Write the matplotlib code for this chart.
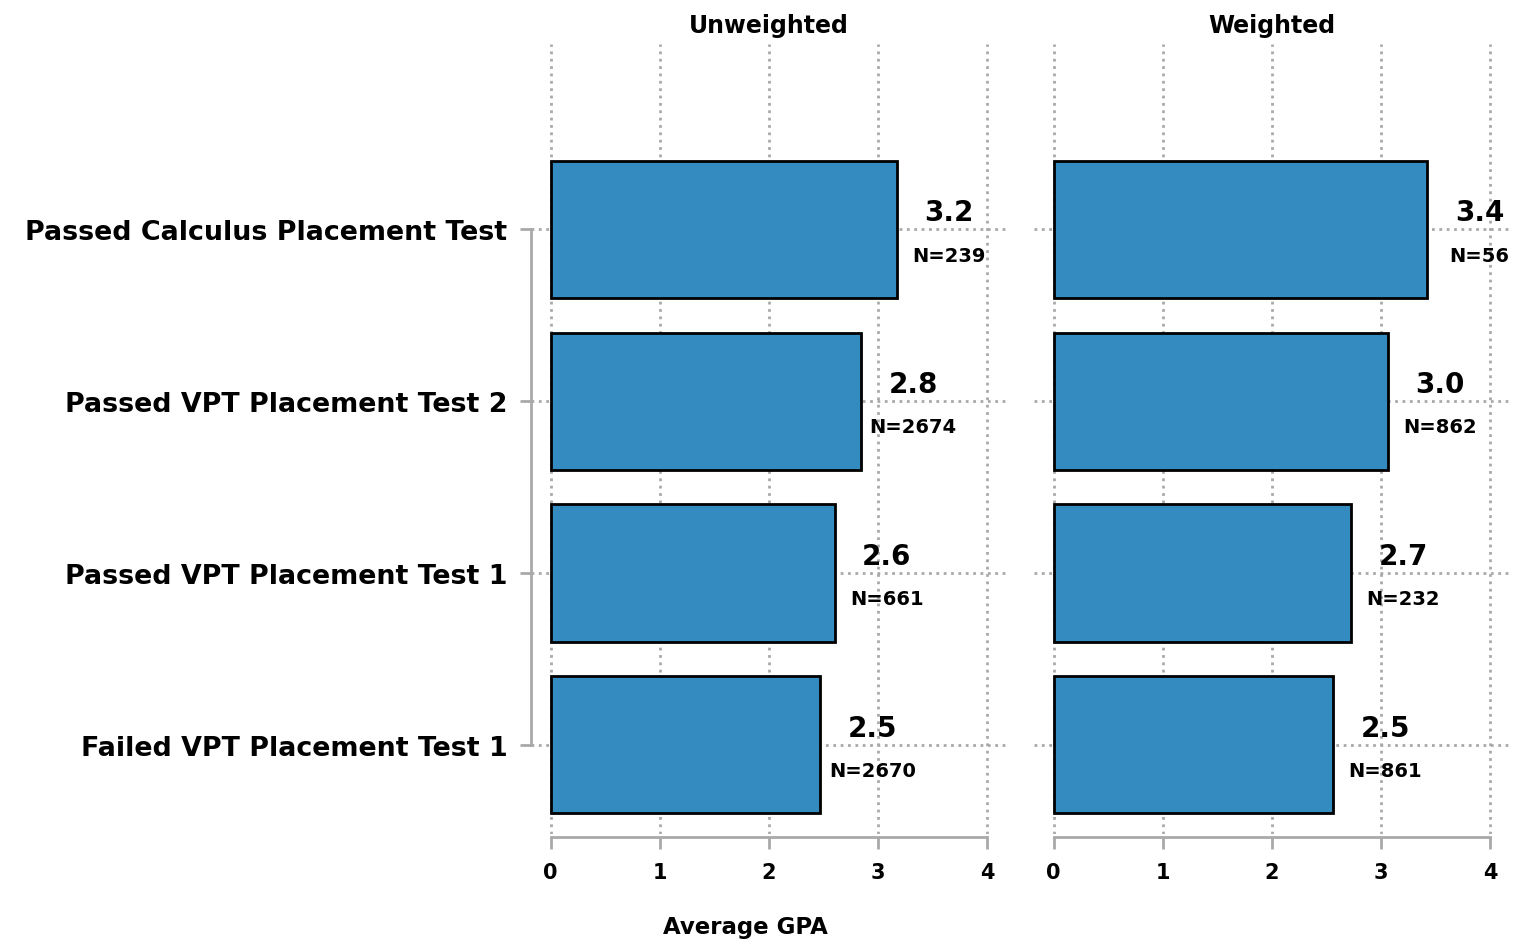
import matplotlib.pyplot as plt
import numpy as np

plt.rcParams['font.family'] = ['DejaVu Sans']
plt.rcParams['font.weight'] = 'bold'

categories = ['Failed VPT Placement Test 1', 'Passed VPT Placement Test 1',
              'Passed VPT Placement Test 2', 'Passed Calculus Placement Test']
unweighted = [2.47, 2.60, 2.84, 3.17]
weighted = [2.56, 2.72, 3.06, 3.42]
unweighted_labels = ['2.5', '2.6', '2.8', '3.2']
weighted_labels = ['2.5', '2.7', '3.0', '3.4']
n_unweighted = [2670, 661, 2674, 239]
n_weighted = [861, 232, 862, 56]
panels = ['Unweighted', 'Weighted']

bar_color = '#348bc0'
grid_color = '#a9a9a9'

fig = plt.figure(figsize=(15.15, 9.45), dpi=100)
ax1 = fig.add_axes([531 / 1515, 1 - 835 / 945, 476 / 1515, 790 / 945])
ax2 = fig.add_axes([1034 / 1515, 1 - 835 / 945, 476 / 1515, 790 / 945])

y = np.arange(len(categories))

for ax, vals, labs, ns, title in zip([ax1, ax2], [unweighted, weighted],
                                     [unweighted_labels, weighted_labels],
                                     [n_unweighted, n_weighted], panels):
    ax.barh(y, vals, height=0.8, color=bar_color, edgecolor='black',
            linewidth=2, zorder=3)
    for yi, v, lab, n in zip(y, vals, labs, ns):
        ax.text(v + 0.48, yi + 0.10, lab, ha='center', va='center',
                fontsize=20, zorder=4)
        ax.text(v + 0.48, yi - 0.15, f'N={n}', ha='center', va='center',
                fontsize=14, zorder=4)
    ax.set_xlim(-0.18, 4.18)
    ax.set_ylim(-0.52, 4.08)
    ax.set_xticks([0, 1, 2, 3, 4])
    ax.set_yticks(y)
    ax.grid(True, linestyle=':', color=grid_color, linewidth=2, zorder=0)
    ax.set_axisbelow(True)
    for s in ['top', 'right']:
        ax.spines[s].set_visible(False)
    ax.spines['bottom'].set_bounds(0, 4)
    ax.spines['bottom'].set_color(grid_color)
    ax.spines['bottom'].set_linewidth(2)
    ax.spines['bottom'].set_position(('outward', 2))
    ax.tick_params(axis='x', colors=grid_color, length=8.5, width=2,
                   labelcolor='black', labelsize=15, pad=10)
    ax.set_title(title, fontsize=17, fontweight='bold', pad=9)

ax1.spines['left'].set_bounds(0, 3)
ax1.spines['left'].set_color(grid_color)
ax1.spines['left'].set_linewidth(2)
ax1.set_yticklabels(categories)
ax1.tick_params(axis='y', colors=grid_color, length=8, width=2,
                labelcolor='black', labelsize=19.4, pad=9)

ax2.spines['left'].set_visible(False)
ax2.tick_params(axis='y', length=0, labelleft=False)

fig.text(745 / 1515, 1 - 928 / 945, 'Average GPA', ha='center', va='center',
         fontsize=16.5, fontweight='bold')

fig.savefig('out.png', dpi=100)
